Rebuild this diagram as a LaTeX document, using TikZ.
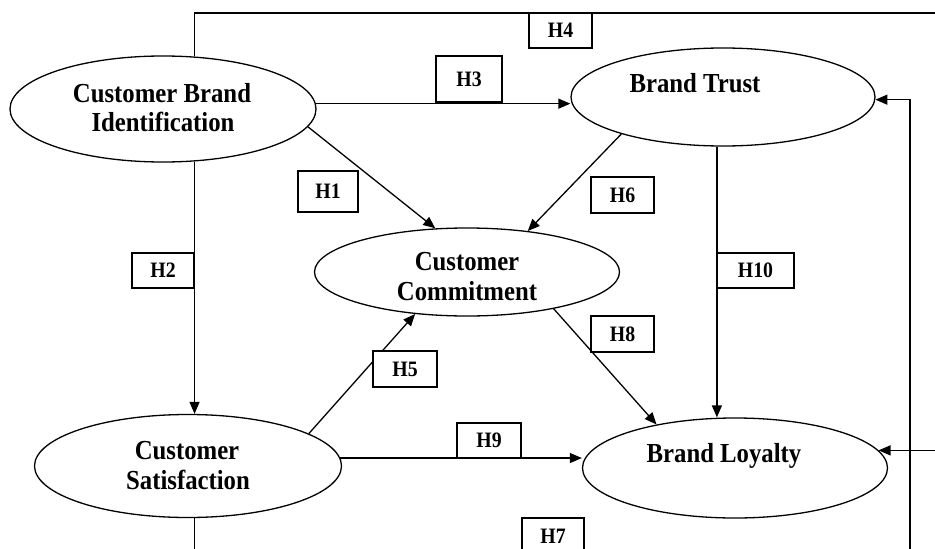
\documentclass[tikz,border=0pt]{standalone}
\usepackage{fontspec}
\setmainfont{Liberation Serif}
\newfontfamily\narrowserif[FakeStretch=0.9]{Liberation Serif}
\usetikzlibrary{shapes.geometric,arrows.meta}
\begin{document}
\begin{tikzpicture}[x=1pt,y=-1pt,line width=1.3pt,
  construct/.style={draw,ellipse,inner sep=0pt},
  hbox/.style={draw,fill=white,inner sep=0pt,font=\narrowserif\fontsize{22}{24}\selectfont\bfseries},
  ctext/.style={anchor=base,inner sep=0pt,font=\narrowserif\fontsize{27.5}{30}\selectfont\bfseries},
  link/.style={-{Triangle[length=12pt,width=10pt]}}]
\useasboundingbox (0,0) rectangle (935,549);
\fill[white] (0,0) rectangle (935,549);
\clip (0,0) rectangle (935,549);
% constructs
\node[construct,minimum width=306pt,minimum height=106pt] (cbi) at (163,109) {};
\node[construct,minimum width=304pt,minimum height=98pt] (bt) at (723,97) {};
\node[construct,minimum width=305pt,minimum height=88pt] (cc) at (467,272) {};
\node[construct,minimum width=307pt,minimum height=103pt] (cs) at (188,466) {};
\node[construct,minimum width=305pt,minimum height=100pt] (bl) at (735,468) {};
% texts
\node[ctext] (cbiA) at (162,102) {Customer Brand};
\node[ctext] (cbiB) at (163,131) {Identification};
\node[ctext] (btA) at (695,92) {Brand Trust};
\node[ctext] (ccA) at (467,270) {Customer};
\node[ctext] (ccB) at (467,300) {Commitment};
\node[ctext] (csA) at (187,459) {Customer};
\node[ctext] (csB) at (188,489) {Satisfaction};
\node[ctext] (blA) at (724,462) {Brand Loyalty};
% off-picture corners
\coordinate (tr) at (950,13);
\coordinate (br) at (910,554);
% connectors
\draw[link] (cbi.-59.2) -- (cbi.-59.2 |- cs.north);
\draw[link] (cbi.2.6) -- (cbi.2.6 -| bt.west);
\draw[link] (cbi.-7.4) -- (cc.126.7);
\draw[link] (bt.200.6) -- (cc.34.3);
\draw[link] (cs.15.4) -- (cc.-141.7);
\draw[link] (cc.-23.8) -- (bl.151.2);
\draw[link] (bt.-97) -- (bt.-97 |- bl.north);
\draw[link] (cs.3) -- (cs.3 -| bl.west);
\draw[link] (cbi.59.2) |- (tr) |- (bl.7.7);
\draw[link] (cs.-83.4) |- (br) |- (bt.-1.5);
% hypothesis labels
\node[hbox,minimum width=60pt,minimum height=41pt] (h1) at (328,191.5) {H1};
\node[hbox,minimum width=62pt,minimum height=35pt] (h2) at (163,270.5) {H2};
\node[hbox,minimum width=66pt,minimum height=46pt] (h3) at (469,79) {H3};
\node[hbox,minimum width=63pt,minimum height=35pt] (h4) at (560.5,30.5) {H4};
\node[hbox,minimum width=64pt,minimum height=36pt] (h5) at (405,369) {H5};
\node[hbox,minimum width=63pt,minimum height=36pt] (h6) at (622.5,195) {H6};
\node[hbox,minimum width=62pt,minimum height=36pt] (h7) at (553,536) {H7};
\node[hbox,minimum width=63pt,minimum height=36pt] (h8) at (622.5,334) {H8};
\node[hbox,minimum width=64pt,minimum height=35pt] (h9) at (489,440.5) {H9};
\node[hbox,minimum width=77pt,minimum height=35pt] (h10) at (755.5,270.5) {H10};
\end{tikzpicture}
\end{document}
